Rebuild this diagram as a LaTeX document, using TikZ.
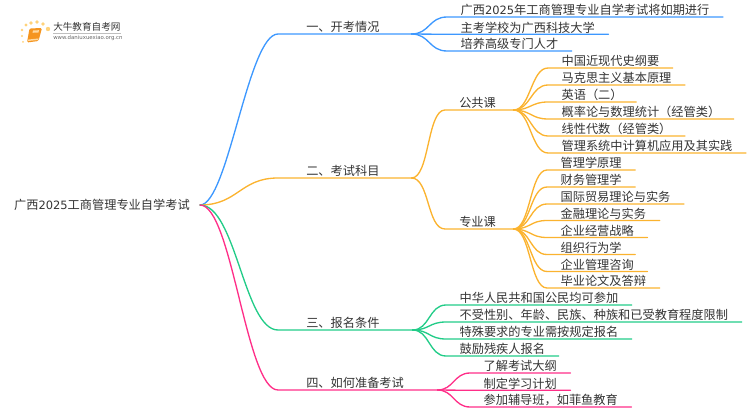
\documentclass[tikz,border=0pt]{standalone}
\usepackage{fontspec}
\setmainfont{Noto Sans CJK SC}
\newfontfamily\digitfont{DejaVu Sans}
\usetikzlibrary{positioning}
\definecolor{blueline}{HTML}{3D98FF}
\definecolor{orangeline}{HTML}{FBB32F}
\definecolor{greenline}{HTML}{22CC88}
\definecolor{pinkline}{HTML}{FF2E88}
\definecolor{inktext}{HTML}{333333}
\definecolor{bookcover}{HTML}{F5951F}
\definecolor{bookpage}{HTML}{FFD9A0}
\definecolor{logodot}{HTML}{FFD27A}
\newcommand{\yeardigits}{{\digitfont\fontsize{8.6}{11}\selectfont 2025}}
\tikzset{
    mindtext/.style={text=inktext, font=\fontsize{9.15}{11}\selectfont, anchor=south west, inner ysep=0pt, text height=8pt, text depth=1.4pt},
    leaf/.style={mindtext, inner xsep=10pt},
    branch/.style n args={2}{mindtext, inner xsep=0pt, align=left, text width=#1, execute at begin node={\hspace*{#2}}},
    conn/.style={line width=1pt, line cap=round}
}

\begin{document}
\begin{tikzpicture}[x=0.75pt, y=-0.75pt]
    \useasboundingbox (0,0) rectangle (750,410);

    % Logo
    \fill[bookcover, rounded corners=1pt] (29.5,28.5) -- (42,28) -- (38.5,41) -- (27,42.5) -- cycle;
    \fill[bookpage] (28.5,39.5) -- (38.5,38.5) -- (38.2,40) -- (28,41) -- cycle;
    \fill[bookpage] (33,30.5) -- (39,30.2) -- (38.5,32.5) -- (32.5,32.8) -- cycle;
    \foreach \dotx/\doty/\dotr in {31/23/1.9, 37/22/1.9, 43/24/1.9, 48/29/2.2, 26/25/1.6, 22/30/1.3, 22/36/1.2, 23/42/1} {
        \fill[logodot] (\dotx,\doty) circle (\dotr);
    }
    \node[text=inktext, font=\fontsize{7.2}{8}\selectfont, inner sep=0pt, anchor=west] (logotext) at (53,27) {大牛教育自考网};
    \draw[black!25, line width=0.4pt] (logotext.west |- 0,33) -- (logotext.east |- 0,33);
    \node[text=black!60, font=\digitfont\fontsize{4.05}{5}\selectfont, inner sep=0pt, anchor=west] (logourl) at (53,38.5) {www.daniuxuexiao.org.cn};

    % Root
    \node[text=inktext, font=\fontsize{9.15}{11}\selectfont, anchor=east, inner xsep=7.5pt, inner ysep=0pt] (root) at (200,205) {广西\yeardigits 工商管理专业自学考试};

    % Branches
    \node[branch={99.75pt}{21pt}] (kaikao) at (278,34) {一、开考情况};
    \node[branch={99.75pt}{21pt}] (kemu) at (278,178) {二、考试科目};
    \node[branch={100.5pt}{21pt}] (tiaojian) at (278,330) {三、报名条件};
    \node[branch={119.25pt}{21pt}] (zhunbei) at (278,390) {四、如何准备考试};

    % Section one
    \node[leaf] (kk1) at (447,17) {广西\yeardigits 年工商管理专业自学考试将如期进行};
    \node[leaf] (kk2) at (447,34.3) {主考学校为广西科技大学};
    \node[leaf] (kk3) at (447,51) {培养高级专门人才};

    % Section two
    \node[branch={51pt}{10.5pt}] (gonggong) at (445,110) {公共课};
    \node[branch={51pt}{10.5pt}] (zhuanye) at (445,229) {专业课};
    \node[leaf] (gg1) at (548,68) {中国近现代史纲要};
    \node[leaf] (gg2) at (548,85) {马克思主义基本原理};
    \node[leaf] (gg3) at (548,102) {英语（二）};
    \node[leaf] (gg4) at (548,119) {概率论与数理统计（经管类）};
    \node[leaf] (gg5) at (548,136) {线性代数（经管类）};
    \node[leaf] (gg6) at (548,153) {管理系统中计算机应用及其实践};
    \node[leaf] (zy1) at (547,170) {管理学原理};
    \node[leaf] (zy2) at (547,187) {财务管理学};
    \node[leaf] (zy3) at (547,204) {国际贸易理论与实务};
    \node[leaf] (zy4) at (547,220.5) {金融理论与实务};
    \node[leaf] (zy5) at (547,237.5) {企业经营战略};
    \node[leaf] (zy6) at (547,254.5) {组织行为学};
    \node[leaf] (zy7) at (547,271.5) {企业管理咨询};
    \node[leaf] (zy8) at (547,288) {毕业论文及答辩};

    % Section three
    \node[leaf] (tj1) at (446,305) {中华人民共和国公民均可参加};
    \node[leaf] (tj2) at (446,322) {不受性别、年龄、民族、种族和已受教育程度限制};
    \node[leaf] (tj3) at (446,339) {特殊要求的专业需按规定报名};
    \node[leaf] (tj4) at (446,356) {鼓励残疾人报名};

    % Section four
    \node[leaf] (zb1) at (470,373) {了解考试大纲};
    \node[leaf] (zb2) at (470,390.3) {制定学习计划};
    \node[leaf] (zb3) at (470,407) {参加辅导班，如菲鱼教育};

    % Connectors
    \draw[conn, blueline] (root.east) .. controls +(28,0) and +(-30,0) .. (kaikao.south west) -- (kaikao.south east);
    \draw[conn, orangeline] (root.east) .. controls +(38,0) and +(-38,0) .. (kemu.south west) -- (kemu.south east);
    \draw[conn, greenline] (root.east) .. controls +(36,0) and +(-34,0) .. (tiaojian.south west) -- (tiaojian.south east);
    \draw[conn, pinkline] (root.east) .. controls +(32,0) and +(-32,0) .. (zhunbei.south west) -- (zhunbei.south east);
    \foreach \leafname in {kk1, kk2, kk3} {
        \draw[conn, blueline] (kaikao.south east) .. controls +(18,0) and +(-18,0) .. (\leafname.south west) -- (\leafname.south east);
    }
    \foreach \leafname in {gonggong, zhuanye} {
        \draw[conn, orangeline] (kemu.south east) .. controls +(18,0) and +(-18,0) .. (\leafname.south west) -- (\leafname.south east);
    }
    \foreach \leafname in {gg1, gg2, gg3, gg4, gg5, gg6} {
        \draw[conn, orangeline] (gonggong.south east) .. controls +(17,0) and +(-17,0) .. (\leafname.south west) -- (\leafname.south east);
    }
    \foreach \leafname in {zy1, zy2, zy3, zy4, zy5, zy6, zy7, zy8} {
        \draw[conn, orangeline] (zhuanye.south east) .. controls +(17,0) and +(-17,0) .. (\leafname.south west) -- (\leafname.south east);
    }
    \foreach \leafname in {tj1, tj2, tj3, tj4} {
        \draw[conn, greenline] (tiaojian.south east) .. controls +(17,0) and +(-17,0) .. (\leafname.south west) -- (\leafname.south east);
    }
    \foreach \leafname in {zb1, zb2, zb3} {
        \draw[conn, pinkline] (zhunbei.south east) .. controls +(16,0) and +(-16,0) .. (\leafname.south west) -- (\leafname.south east);
    }
\end{tikzpicture}
\end{document}
